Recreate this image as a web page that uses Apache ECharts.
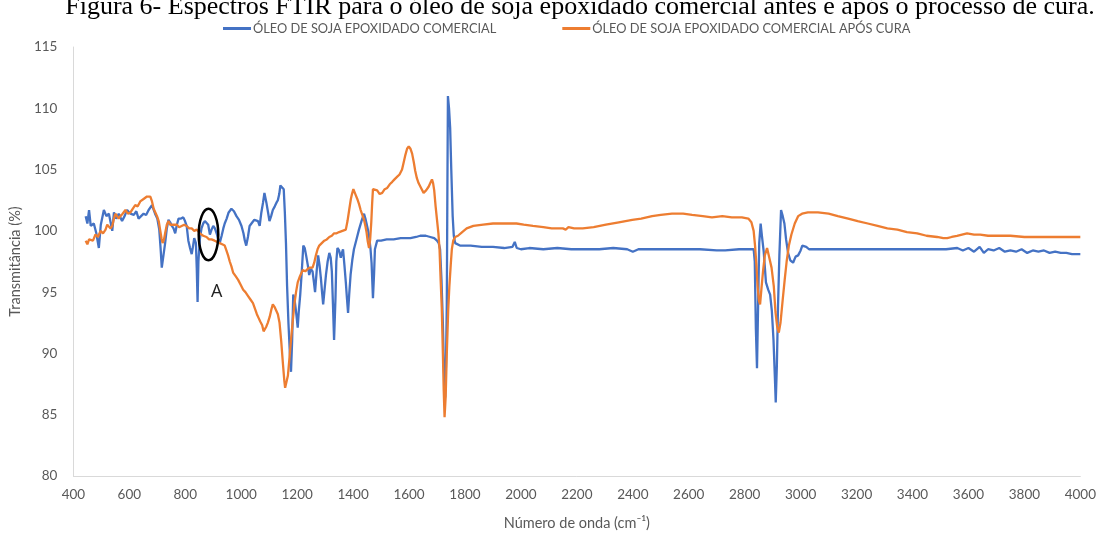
<!DOCTYPE html>
<html>
<head>
<meta charset="utf-8">
<script src="https://cdn.jsdelivr.net/npm/echarts@6/dist/echarts.min.js"></script>
<style>
html,body{margin:0;padding:0;background:#fff;}
#c{width:1099px;height:536px;}
</style>
</head>
<body>
<div id="c"></div>
<script>
const titleText = 'Figura 6- Espectros FTIR para o óleo de soja epoxidado comercial antes e após o processo de cura.';
const seriesNames = ['ÓLEO DE SOJA EPOXIDADO COMERCIAL', 'ÓLEO DE SOJA EPOXIDADO COMERCIAL APÓS CURA'];
const xAxisName = 'Número de onda (cm⁻¹)';
const yAxisName = 'Transmitância (%)';
const xTicks = {min: 400, max: 4000, interval: 200};
const yTicks = {min: 80, max: 115, interval: 5};

const blueData = [[444,101.2],[450,100.6],[456,101.7],[462,100.4],[473,100.6],[482,99.8],[491,98.6],[498,100.5],[509,101.7],[518,101.2],[527,101.4],[539,100.0],[545,101.5],[553,101.0],[562,101.4],[574,100.8],[583,101.2],[592,101.7],[604,101.4],[616,101.3],[625,101.6],[633,101.0],[642,101.2],[651,101.4],[660,101.3],[669,101.7],[681,102.1],[692,101.4],[700,101.0],[707,100.1],[712,98.5],[716,97.0],[722,98.0],[728,99.0],[734,100.2],[740,100.9],[746,100.7],[752,100.4],[758,100.2],[764,99.8],[770,100.5],[776,101.0],[785,101.0],[793,101.1],[799,100.8],[805,100.4],[811,99.2],[817,98.6],[823,98.1],[828,98.8],[832,99.4],[838,99.0],[841,97.0],[844,94.2],[847,97.5],[852,99.3],[858,100.2],[864,100.6],[870,100.8],[876,100.9],[882,100.5],[888,99.7],[894,100.1],[900,100.4],[906,100.2],[912,99.8],[918,99.3],[923,99.0],[930,99.6],[936,100.2],[941,100.6],[948,101.0],[955,101.5],[965,101.8],[974,101.6],[983,101.2],[992,100.9],[1001,100.4],[1008,99.8],[1013,99.2],[1018,98.8],[1024,99.5],[1030,100.4],[1040,100.7],[1047,100.9],[1054,101.0],[1060,100.8],[1066,100.4],[1072,101.5],[1078,102.3],[1083,103.1],[1090,102.3],[1096,101.5],[1101,100.8],[1107,101.2],[1113,101.7],[1120,102.0],[1126,102.3],[1131,102.5],[1136,103.0],[1140,103.7],[1146,103.6],[1152,103.4],[1156,101.5],[1160,99.0],[1164,95.5],[1169,92.4],[1174,90.0],[1178,88.5],[1182,91.0],[1186,94.8],[1190,94.5],[1194,93.8],[1198,93.0],[1202,92.1],[1206,93.5],[1211,94.8],[1216,96.5],[1222,98.8],[1227,98.6],[1232,98.0],[1238,97.2],[1243,96.4],[1249,96.9],[1255,96.7],[1260,95.8],[1264,95.0],[1270,96.8],[1275,98.0],[1280,97.2],[1285,96.1],[1289,95.0],[1293,94.0],[1298,95.2],[1303,96.4],[1309,97.5],[1315,98.2],[1320,97.8],[1324,96.7],[1328,94.0],[1332,91.1],[1337,94.5],[1340,97.5],[1344,98.6],[1350,98.4],[1356,97.8],[1360,98.2],[1364,98.5],[1369,97.2],[1374,95.8],[1378,94.5],[1382,93.3],[1386,94.8],[1391,96.4],[1397,97.6],[1403,98.5],[1412,99.3],[1421,100.1],[1430,100.8],[1439,101.4],[1444,101.0],[1448,100.6],[1453,100.1],[1457,99.6],[1462,98.6],[1466,97.4],[1471,94.5],[1475,96.5],[1478,98.5],[1486,99.2],[1500,99.2],[1520,99.3],[1545,99.3],[1570,99.4],[1605,99.4],[1625,99.5],[1640,99.6],[1660,99.6],[1676,99.5],[1690,99.4],[1700,99.2],[1706,99.0],[1711,98.5],[1716,96.0],[1721,92.4],[1725,88.5],[1729,86.4],[1732,89.0],[1735,94.0],[1737,103.0],[1739,111.0],[1743,110.0],[1747,108.4],[1751,105.0],[1756,101.2],[1760,99.6],[1765,99.0],[1782,98.8],[1820,98.8],[1860,98.7],[1900,98.7],[1940,98.6],[1970,98.7],[1978,99.1],[1985,98.6],[2000,98.5],[2030,98.6],[2080,98.5],[2130,98.6],[2180,98.5],[2230,98.5],[2280,98.5],[2330,98.6],[2380,98.5],[2400,98.3],[2420,98.5],[2480,98.5],[2530,98.5],[2580,98.5],[2640,98.5],[2700,98.4],[2730,98.4],[2780,98.5],[2832,98.5],[2836,97.5],[2840,92.0],[2844,88.8],[2848,94.0],[2852,99.0],[2857,100.6],[2862,99.5],[2868,98.3],[2876,95.8],[2884,95.2],[2891,94.8],[2897,93.5],[2903,91.1],[2908,88.0],[2911,86.0],[2915,89.0],[2919,93.7],[2924,98.0],[2930,101.7],[2936,101.2],[2942,100.6],[2948,99.3],[2955,98.2],[2963,97.6],[2973,97.4],[2982,97.9],[2991,98.0],[3000,98.4],[3006,98.8],[3012,98.9],[3020,98.7],[3030,98.5],[3037,98.4],[3080,98.5],[3150,98.5],[3250,98.5],[3350,98.5],[3450,98.5],[3520,98.5],[3560,98.6],[3580,98.4],[3600,98.6],[3620,98.3],[3640,98.7],[3655,98.2],[3670,98.5],[3690,98.4],[3710,98.6],[3730,98.3],[3750,98.4],[3770,98.3],[3790,98.5],[3810,98.2],[3830,98.4],[3850,98.3],[3870,98.4],[3890,98.2],[3910,98.3],[3930,98.2],[3950,98.2],[3970,98.1],[3990,98.1],[4000,98.1]];

const orangeData = [[444,99.2],[450,98.9],[456,99.3],[462,99.4],[470,99.2],[479,99.7],[488,99.5],[497,100.0],[506,99.8],[515,100.1],[521,100.5],[527,100.6],[533,100.2],[539,100.4],[545,101.0],[550,101.4],[556,101.2],[562,101.0],[568,101.2],[576,101.4],[586,101.7],[595,101.4],[604,101.5],[612,101.8],[621,102.1],[630,102.0],[639,102.4],[645,102.3],[651,102.6],[657,102.5],[663,102.8],[669,102.7],[675,102.8],[681,102.4],[687,101.8],[693,101.5],[699,101.2],[705,100.8],[710,100.1],[715,99.4],[719,99.0],[724,99.3],[728,99.8],[734,100.5],[740,100.8],[746,100.5],[752,100.6],[760,100.5],[770,100.5],[778,100.3],[787,100.4],[796,100.5],[805,100.4],[814,100.2],[823,100.2],[832,100.0],[841,100.1],[852,99.8],[864,99.6],[876,99.5],[885,99.3],[894,99.3],[905,99.2],[914,99.1],[923,99.0],[932,98.9],[941,98.8],[947,98.4],[953,98.0],[959,97.5],[965,97.1],[971,96.6],[980,96.3],[989,96.0],[998,95.6],[1007,95.2],[1015,95.0],[1024,94.7],[1033,94.4],[1042,94.1],[1050,93.6],[1056,93.2],[1062,92.9],[1068,92.6],[1075,92.3],[1080,91.8],[1083,91.9],[1090,92.2],[1095,92.5],[1102,93.0],[1108,93.6],[1113,94.0],[1119,93.8],[1125,93.5],[1131,93.2],[1137,92.5],[1143,91.0],[1149,89.2],[1154,87.8],[1157,87.2],[1162,87.1],[1167,88.2],[1172,89.5],[1178,91.1],[1184,92.6],[1190,94.0],[1196,95.0],[1202,95.8],[1210,96.3],[1220,96.8],[1229,96.7],[1238,96.9],[1246,97.0],[1255,97.0],[1261,97.4],[1267,98.0],[1273,98.5],[1279,98.8],[1288,99.0],[1297,99.2],[1306,99.3],[1315,99.5],[1324,99.6],[1332,99.8],[1341,99.8],[1350,99.9],[1362,100.0],[1374,100.1],[1380,100.8],[1386,101.7],[1392,102.6],[1396,103.0],[1401,103.4],[1408,103.0],[1415,102.6],[1421,102.2],[1427,101.7],[1433,101.3],[1439,100.9],[1444,100.4],[1448,99.9],[1452,99.2],[1457,98.6],[1461,99.3],[1465,100.7],[1468,102.2],[1471,103.4],[1478,103.3],[1486,103.3],[1495,103.0],[1504,103.1],[1513,103.4],[1522,103.5],[1531,103.8],[1540,104.0],[1548,104.2],[1557,104.4],[1566,104.6],[1575,105.0],[1581,105.6],[1587,106.2],[1593,106.7],[1599,106.9],[1605,106.7],[1611,106.3],[1617,105.6],[1622,104.9],[1628,104.3],[1634,103.9],[1643,103.5],[1652,103.1],[1661,103.3],[1670,103.6],[1676,103.9],[1682,104.2],[1686,103.9],[1690,103.3],[1695,102.0],[1700,100.9],[1705,99.8],[1709,98.5],[1713,96.0],[1717,93.7],[1721,90.0],[1724,87.0],[1727,84.8],[1731,86.5],[1735,90.0],[1740,93.5],[1744,95.4],[1749,97.2],[1753,98.5],[1758,99.2],[1765,99.5],[1775,99.6],[1790,99.9],[1806,100.2],[1830,100.4],[1865,100.5],[1900,100.6],[1940,100.6],[1984,100.6],[2010,100.5],[2043,100.4],[2080,100.3],[2110,100.2],[2150,100.2],[2160,100.1],[2170,100.3],[2190,100.2],[2221,100.2],[2260,100.3],[2304,100.5],[2350,100.7],[2398,100.9],[2430,101.0],[2469,101.2],[2500,101.3],[2540,101.4],[2580,101.4],[2612,101.3],[2650,101.2],[2683,101.1],[2720,101.2],[2754,101.1],[2790,101.1],[2813,101.0],[2824,100.7],[2832,100.0],[2837,98.8],[2842,97.2],[2846,95.5],[2851,94.3],[2855,94.0],[2860,95.3],[2866,96.8],[2872,98.0],[2880,98.6],[2888,97.8],[2896,97.0],[2904,95.5],[2910,93.4],[2916,92.2],[2922,91.7],[2928,92.5],[2936,94.4],[2943,96.0],[2950,97.5],[2958,98.8],[2967,99.7],[2979,100.6],[2991,101.2],[3005,101.4],[3026,101.5],[3062,101.5],[3100,101.4],[3133,101.2],[3170,101.0],[3204,100.8],[3240,100.6],[3275,100.4],[3310,100.2],[3346,100.1],[3380,99.9],[3417,99.8],[3450,99.6],[3488,99.5],[3510,99.4],[3524,99.4],[3540,99.5],[3559,99.6],[3577,99.7],[3595,99.8],[3620,99.7],[3642,99.7],[3670,99.6],[3701,99.6],[3750,99.6],[3800,99.5],[3850,99.5],[3900,99.5],[3950,99.5],[4000,99.5]];

const annotationLabel = 'A';
const ellipseCenter = [883, 99.7];
const ellipseRadii = [35, 2.1];
const labelPos = [912, 95.0];

const FONT = 'Lato, "Open Sans", sans-serif';
const GRAY = '#595959';

const chart = echarts.init(document.getElementById('c'), null, {renderer: 'canvas'});
const option = {
  animation: false,
  backgroundColor: '#fff',
  grid: {left: 71, right: 16, top: 47, bottom: 51, containLabel: false},
  legend: {
    left: 218, top: 17,
    itemWidth: 28, itemHeight: 3, itemGap: 66,
    icon: 'rect',
    textStyle: {color: GRAY, fontSize: 12.8, fontFamily: FONT, padding: [0,0,0,-3]},
    data: seriesNames
  },
  xAxis: {
    type: 'value', min: xTicks.min, max: xTicks.max, interval: xTicks.interval,
    name: xAxisName, nameLocation: 'middle', nameGap: 40,
    nameTextStyle: {color: GRAY, fontSize: 14.5, fontFamily: FONT},
    axisLine: {show: true, lineStyle: {color: '#d9d9d9', width: 1}},
    axisTick: {show: false},
    splitLine: {show: false},
    axisLabel: {color: GRAY, fontSize: 13.5, fontFamily: FONT, margin: 12,
      formatter: function (v) { return String(v); }}
  },
  yAxis: {
    type: 'value', min: yTicks.min, max: yTicks.max, interval: yTicks.interval,
    name: yAxisName, nameLocation: 'middle', nameGap: 46, nameRotate: 90,
    nameTextStyle: {color: GRAY, fontSize: 14.5, fontFamily: FONT},
    axisLine: {show: true, lineStyle: {color: '#d9d9d9', width: 1}},
    axisTick: {show: false},
    splitLine: {show: false},
    axisLabel: {color: GRAY, fontSize: 13.5, fontFamily: FONT, margin: 16}
  },
  series: [
    {name: seriesNames[0], type: 'line', data: blueData, showSymbol: false, symbol: 'none',
     lineStyle: {color: '#4472C4', width: 2.3}, itemStyle: {color: '#4472C4'}},
    {name: seriesNames[1], type: 'line', data: orangeData, showSymbol: false, symbol: 'none',
     lineStyle: {color: '#ED7D31', width: 2.3}, itemStyle: {color: '#ED7D31'}}
  ]
};
chart.setOption(option);

const c = chart.convertToPixel({gridIndex: 0}, ellipseCenter);
const e = chart.convertToPixel({gridIndex: 0}, [ellipseCenter[0] + ellipseRadii[0], ellipseCenter[1] + ellipseRadii[1]]);
const lp = chart.convertToPixel({gridIndex: 0}, labelPos);
chart.setOption({
  graphic: [
    {type: 'text', x: 580, y: -6, z: 100,
     style: {text: titleText, font: '26px "Liberation Serif", "Times New Roman", serif', fill: '#000', align: 'center', verticalAlign: 'top'}},
    {type: 'ellipse', z: 100, shape: {cx: c[0], cy: c[1], rx: Math.abs(e[0]-c[0]), ry: Math.abs(c[1]-e[1])},
     style: {fill: 'none', stroke: '#000', lineWidth: 2.5}},
    {type: 'text', z: 100, x: lp[0], y: lp[1],
     style: {text: annotationLabel, font: '18px "Open Sans", sans-serif', fill: '#222', align: 'center', verticalAlign: 'middle'}}
  ]
});
</script>
</body>
</html>
